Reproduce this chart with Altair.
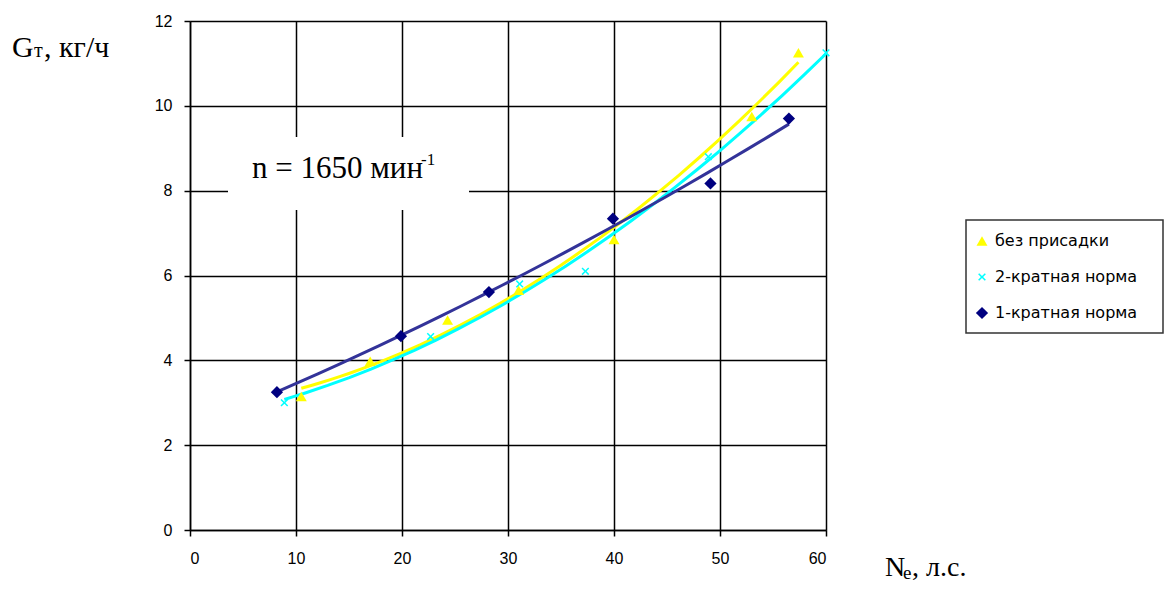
import altair as alt
import pandas as pd

# ---- data ----
series_names = ["без присадки", "2-кратная норма", "1-кратная норма"]

yellow_N = [10.5, 17.0, 24.3, 31.0, 40.0, 53.0, 57.4]
yellow_G = [3.15, 3.98, 4.95, 5.65, 6.85, 9.75, 11.25]

cyan_N = [8.9, 22.7, 31.1, 37.3, 48.9, 60.0]
cyan_G = [3.0, 4.56, 5.8, 6.1, 8.8, 11.25]

navy_N = [8.2, 19.9, 28.2, 39.9, 49.1, 56.5]
navy_G = [3.25, 4.57, 5.61, 7.34, 8.17, 9.7]

x_ticks = [0, 10, 20, 30, 40, 50, 60]
y_ticks = [0, 2, 4, 6, 8, 10, 12]

point_colors = ["#FFFF00", "#00FFFF", "#000080"]
line_colors = ["#FFFF00", "#00FFFF", "#333399"]
point_sizes = [120, 60, 150]

X_PATH = ("M-1,-0.72L-0.72,-1L0,-0.28L0.72,-1L1,-0.72L0.28,0L1,0.72L0.72,1"
          "L0,0.28L-0.72,1L-1,0.72L-0.28,0Z")
shapes = ["triangle-up", X_PATH, "diamond"]

rows = []
for name, xs, ys in zip(series_names, [yellow_N, cyan_N, navy_N], [yellow_G, cyan_G, navy_G]):
    for a, b in zip(xs, ys):
        rows.append({"series": name, "N": a, "G": b})
df = pd.DataFrame(rows)

W, H = 636, 509

x_enc = alt.X("N:Q", scale=alt.Scale(domain=[0, 60], nice=False, zero=False),
              axis=alt.Axis(values=x_ticks, title=None, labelPadding=14))
y_enc = alt.Y("G:Q", scale=alt.Scale(domain=[0, 12], nice=False),
              axis=alt.Axis(values=y_ticks, title=None, labelPadding=12))

base = alt.Chart(df)

# trend lines (2nd order polynomial, as in the spreadsheet)
lines = []
for name, col in zip(series_names, line_colors):
    lines.append(
        base.transform_filter(alt.datum.series == name)
        .transform_regression("N", "G", method="poly", order=2)
        .mark_line(strokeWidth=3, color=col)
        .encode(x=x_enc, y=y_enc)
    )

leg = alt.Legend(title=None, orient="none", legendX=784, legendY=212,
                 labelFont="DejaVu Sans", labelFontSize=16, labelColor="#000000",
                 rowPadding=20, labelOffset=5, padding=0,
                 symbolStrokeWidth=0)

points = base.mark_point(filled=True, opacity=1).encode(
    x=x_enc, y=y_enc,
    color=alt.Color("series:N", scale=alt.Scale(domain=series_names, range=point_colors), legend=leg),
    shape=alt.Shape("series:N", scale=alt.Scale(domain=series_names, range=shapes), legend=leg),
    size=alt.Size("series:N", scale=alt.Scale(type="ordinal", domain=series_names, range=point_sizes), legend=leg),
)

one = pd.DataFrame({"k": [0]})

# white box behind the annotation
box = alt.Chart(one).mark_rect(color="white").encode(
    x=alt.value(38), x2=alt.value(279), y=alt.value(116), y2=alt.value(189))

# legend frame
frame = alt.Chart(one).mark_rect(fill="white", stroke="#333333", strokeWidth=1.5).encode(
    x=alt.value(776), x2=alt.value(973), y=alt.value(199), y2=alt.value(312))


def txt(t, x, y, size, font="Liberation Serif"):
    return alt.Chart(one).mark_text(text=t, align="left", baseline="alphabetic",
                                    font=font, fontSize=size, color="black").encode(
        x=alt.value(x), y=alt.value(y))


texts = [
    txt("n = 1650 мин", 62, 157, 31),
    txt("-1", 231, 144, 17),
    txt("G", -178, 36, 30),
    txt("т", -156, 36, 20),
    txt(", кг/ч", -146, 36, 30),
    txt("N", 695, 555, 28),
    txt("e", 713, 558, 19),
    txt(", л.с.", 722, 555, 28),
]

chart = alt.layer(*lines, points, box, frame, *texts).properties(
    width=W, height=H,
    padding={"left": 182, "top": 13, "right": 339, "bottom": 54},
    autosize=alt.AutoSizeParams(type="none"),
).configure_view(stroke=None).configure_axis(
    grid=True, gridColor="#000000", gridWidth=1.5, gridOpacity=1,
    domainColor="#000000", domainWidth=1.5,
    tickColor="#000000", tickWidth=1.5, tickSize=6,
    labelFont="Liberation Sans", labelFontSize=16, labelColor="#000000",
)

chart.save("out.html", embed_options={"renderer": "svg", "actions": False})
